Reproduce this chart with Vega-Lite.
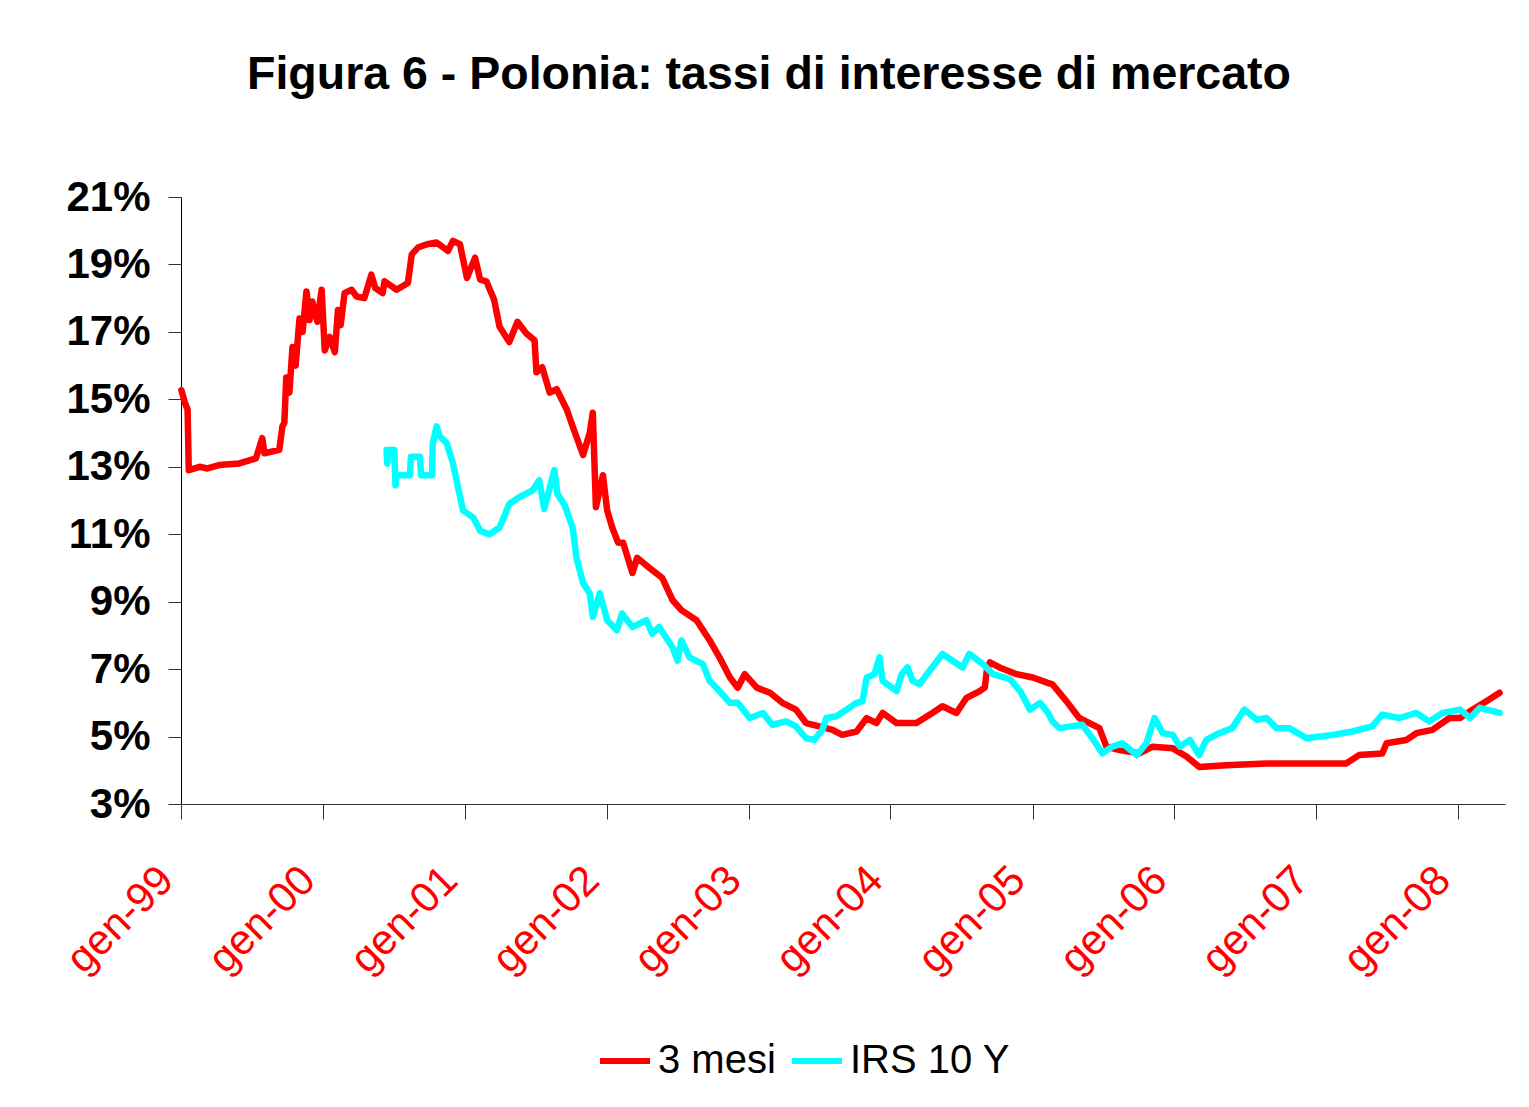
{
  "$schema": "https://vega.github.io/schema/vega-lite/v6.json",
  "width": 1324,
  "height": 607,
  "autosize": {"type": "none"},
  "padding": {"left": 181, "top": 197, "right": 24, "bottom": 303},
  "background": "white",
  "config": {
    "view": {"stroke": null},
    "font": "Liberation Sans"
  },
  "title": {
    "text": "Figura 6 - Polonia: tassi di interesse di mercato",
    "fontSize": 46.5,
    "fontWeight": "bold",
    "font": "Liberation Sans",
    "color": "black",
    "anchor": "middle",
    "dx": -74,
    "offset": 78
  },
  "data": {
    "values": [
      {"d": "1999-01-02", "s": "3 mesi", "v": 15.27},
      {"d": "1999-01-11", "s": "3 mesi", "v": 14.9},
      {"d": "1999-01-18", "s": "3 mesi", "v": 14.7},
      {"d": "1999-01-21", "s": "3 mesi", "v": 12.9},
      {"d": "1999-02-18", "s": "3 mesi", "v": 13.0},
      {"d": "1999-03-10", "s": "3 mesi", "v": 12.95},
      {"d": "1999-04-09", "s": "3 mesi", "v": 13.05},
      {"d": "1999-05-31", "s": "3 mesi", "v": 13.1},
      {"d": "1999-07-13", "s": "3 mesi", "v": 13.25},
      {"d": "1999-07-29", "s": "3 mesi", "v": 13.85},
      {"d": "1999-08-04", "s": "3 mesi", "v": 13.4},
      {"d": "1999-09-11", "s": "3 mesi", "v": 13.5},
      {"d": "1999-09-19", "s": "3 mesi", "v": 14.2},
      {"d": "1999-09-24", "s": "3 mesi", "v": 14.3},
      {"d": "1999-09-29", "s": "3 mesi", "v": 15.65},
      {"d": "1999-10-07", "s": "3 mesi", "v": 15.2},
      {"d": "1999-10-15", "s": "3 mesi", "v": 16.55},
      {"d": "1999-10-23", "s": "3 mesi", "v": 16.0},
      {"d": "1999-11-02", "s": "3 mesi", "v": 17.4},
      {"d": "1999-11-10", "s": "3 mesi", "v": 17.0},
      {"d": "1999-11-20", "s": "3 mesi", "v": 18.2},
      {"d": "1999-11-28", "s": "3 mesi", "v": 17.35},
      {"d": "1999-12-05", "s": "3 mesi", "v": 17.9},
      {"d": "1999-12-18", "s": "3 mesi", "v": 17.3},
      {"d": "1999-12-29", "s": "3 mesi", "v": 18.25},
      {"d": "2000-01-06", "s": "3 mesi", "v": 16.45},
      {"d": "2000-01-19", "s": "3 mesi", "v": 16.85},
      {"d": "2000-02-01", "s": "3 mesi", "v": 16.4},
      {"d": "2000-02-09", "s": "3 mesi", "v": 17.65},
      {"d": "2000-02-16", "s": "3 mesi", "v": 17.2},
      {"d": "2000-02-26", "s": "3 mesi", "v": 18.15},
      {"d": "2000-03-15", "s": "3 mesi", "v": 18.25},
      {"d": "2000-03-28", "s": "3 mesi", "v": 18.05},
      {"d": "2000-04-17", "s": "3 mesi", "v": 18.0},
      {"d": "2000-05-05", "s": "3 mesi", "v": 18.7},
      {"d": "2000-05-15", "s": "3 mesi", "v": 18.3},
      {"d": "2000-06-03", "s": "3 mesi", "v": 18.15},
      {"d": "2000-06-08", "s": "3 mesi", "v": 18.5},
      {"d": "2000-07-09", "s": "3 mesi", "v": 18.25},
      {"d": "2000-08-07", "s": "3 mesi", "v": 18.45},
      {"d": "2000-08-17", "s": "3 mesi", "v": 19.3},
      {"d": "2000-09-02", "s": "3 mesi", "v": 19.5},
      {"d": "2000-09-25", "s": "3 mesi", "v": 19.6},
      {"d": "2000-10-20", "s": "3 mesi", "v": 19.65},
      {"d": "2000-11-18", "s": "3 mesi", "v": 19.4},
      {"d": "2000-12-01", "s": "3 mesi", "v": 19.7},
      {"d": "2000-12-19", "s": "3 mesi", "v": 19.6},
      {"d": "2001-01-06", "s": "3 mesi", "v": 18.6},
      {"d": "2001-01-27", "s": "3 mesi", "v": 19.2},
      {"d": "2001-02-09", "s": "3 mesi", "v": 18.55},
      {"d": "2001-02-25", "s": "3 mesi", "v": 18.5},
      {"d": "2001-03-17", "s": "3 mesi", "v": 17.95},
      {"d": "2001-03-31", "s": "3 mesi", "v": 17.15},
      {"d": "2001-04-25", "s": "3 mesi", "v": 16.7},
      {"d": "2001-05-16", "s": "3 mesi", "v": 17.3},
      {"d": "2001-06-08", "s": "3 mesi", "v": 16.95},
      {"d": "2001-06-29", "s": "3 mesi", "v": 16.75},
      {"d": "2001-07-04", "s": "3 mesi", "v": 15.8},
      {"d": "2001-07-19", "s": "3 mesi", "v": 15.95},
      {"d": "2001-08-07", "s": "3 mesi", "v": 15.2},
      {"d": "2001-08-25", "s": "3 mesi", "v": 15.3},
      {"d": "2001-09-20", "s": "3 mesi", "v": 14.7},
      {"d": "2001-10-05", "s": "3 mesi", "v": 14.2},
      {"d": "2001-11-01", "s": "3 mesi", "v": 13.35},
      {"d": "2001-11-18", "s": "3 mesi", "v": 14.0},
      {"d": "2001-11-26", "s": "3 mesi", "v": 14.6},
      {"d": "2001-12-04", "s": "3 mesi", "v": 11.8},
      {"d": "2001-12-22", "s": "3 mesi", "v": 12.75},
      {"d": "2002-01-02", "s": "3 mesi", "v": 11.7},
      {"d": "2002-01-15", "s": "3 mesi", "v": 11.2},
      {"d": "2002-01-30", "s": "3 mesi", "v": 10.75},
      {"d": "2002-02-12", "s": "3 mesi", "v": 10.75},
      {"d": "2002-03-08", "s": "3 mesi", "v": 9.85},
      {"d": "2002-03-20", "s": "3 mesi", "v": 10.3},
      {"d": "2002-04-21", "s": "3 mesi", "v": 10.0},
      {"d": "2002-05-24", "s": "3 mesi", "v": 9.7},
      {"d": "2002-06-19", "s": "3 mesi", "v": 9.05},
      {"d": "2002-07-12", "s": "3 mesi", "v": 8.75},
      {"d": "2002-08-20", "s": "3 mesi", "v": 8.45},
      {"d": "2002-09-23", "s": "3 mesi", "v": 7.85},
      {"d": "2002-10-18", "s": "3 mesi", "v": 7.35},
      {"d": "2002-11-14", "s": "3 mesi", "v": 6.75},
      {"d": "2002-12-04", "s": "3 mesi", "v": 6.45},
      {"d": "2002-12-22", "s": "3 mesi", "v": 6.85},
      {"d": "2003-01-22", "s": "3 mesi", "v": 6.45},
      {"d": "2003-02-25", "s": "3 mesi", "v": 6.3},
      {"d": "2003-03-29", "s": "3 mesi", "v": 6.0},
      {"d": "2003-05-03", "s": "3 mesi", "v": 5.8},
      {"d": "2003-05-29", "s": "3 mesi", "v": 5.4},
      {"d": "2003-07-02", "s": "3 mesi", "v": 5.3},
      {"d": "2003-08-05", "s": "3 mesi", "v": 5.2},
      {"d": "2003-08-30", "s": "3 mesi", "v": 5.05},
      {"d": "2003-10-06", "s": "3 mesi", "v": 5.15},
      {"d": "2003-11-01", "s": "3 mesi", "v": 5.55},
      {"d": "2003-11-26", "s": "3 mesi", "v": 5.4},
      {"d": "2003-12-12", "s": "3 mesi", "v": 5.7},
      {"d": "2004-01-17", "s": "3 mesi", "v": 5.4},
      {"d": "2004-03-08", "s": "3 mesi", "v": 5.4},
      {"d": "2004-04-18", "s": "3 mesi", "v": 5.7},
      {"d": "2004-05-14", "s": "3 mesi", "v": 5.9},
      {"d": "2004-06-19", "s": "3 mesi", "v": 5.7},
      {"d": "2004-07-15", "s": "3 mesi", "v": 6.15},
      {"d": "2004-08-18", "s": "3 mesi", "v": 6.35},
      {"d": "2004-08-31", "s": "3 mesi", "v": 6.45},
      {"d": "2004-09-05", "s": "3 mesi", "v": 6.95},
      {"d": "2004-09-13", "s": "3 mesi", "v": 7.2},
      {"d": "2004-10-08", "s": "3 mesi", "v": 7.05},
      {"d": "2004-11-21", "s": "3 mesi", "v": 6.85},
      {"d": "2005-01-02", "s": "3 mesi", "v": 6.75},
      {"d": "2005-02-07", "s": "3 mesi", "v": 6.6},
      {"d": "2005-02-21", "s": "3 mesi", "v": 6.55},
      {"d": "2005-03-29", "s": "3 mesi", "v": 6.05},
      {"d": "2005-05-01", "s": "3 mesi", "v": 5.55},
      {"d": "2005-06-22", "s": "3 mesi", "v": 5.25},
      {"d": "2005-07-10", "s": "3 mesi", "v": 4.7},
      {"d": "2005-08-13", "s": "3 mesi", "v": 4.6},
      {"d": "2005-10-03", "s": "3 mesi", "v": 4.5},
      {"d": "2005-11-06", "s": "3 mesi", "v": 4.7},
      {"d": "2005-12-28", "s": "3 mesi", "v": 4.65},
      {"d": "2006-02-02", "s": "3 mesi", "v": 4.4},
      {"d": "2006-03-06", "s": "3 mesi", "v": 4.1},
      {"d": "2006-05-14", "s": "3 mesi", "v": 4.15},
      {"d": "2006-08-26", "s": "3 mesi", "v": 4.2},
      {"d": "2007-03-19", "s": "3 mesi", "v": 4.2},
      {"d": "2007-04-21", "s": "3 mesi", "v": 4.45},
      {"d": "2007-06-20", "s": "3 mesi", "v": 4.5},
      {"d": "2007-07-01", "s": "3 mesi", "v": 4.8},
      {"d": "2007-08-21", "s": "3 mesi", "v": 4.9},
      {"d": "2007-09-16", "s": "3 mesi", "v": 5.1},
      {"d": "2007-10-27", "s": "3 mesi", "v": 5.2},
      {"d": "2007-12-10", "s": "3 mesi", "v": 5.55},
      {"d": "2008-01-06", "s": "3 mesi", "v": 5.55},
      {"d": "2008-02-08", "s": "3 mesi", "v": 5.8},
      {"d": "2008-03-14", "s": "3 mesi", "v": 6.05},
      {"d": "2008-04-17", "s": "3 mesi", "v": 6.3},
      {"d": "2000-06-13", "s": "IRS 10 Y", "v": 13.5},
      {"d": "2000-06-15", "s": "IRS 10 Y", "v": 13.1},
      {"d": "2000-06-18", "s": "IRS 10 Y", "v": 13.5},
      {"d": "2000-07-03", "s": "IRS 10 Y", "v": 13.5},
      {"d": "2000-07-06", "s": "IRS 10 Y", "v": 12.45},
      {"d": "2000-07-09", "s": "IRS 10 Y", "v": 12.75},
      {"d": "2000-08-12", "s": "IRS 10 Y", "v": 12.75},
      {"d": "2000-08-15", "s": "IRS 10 Y", "v": 13.3},
      {"d": "2000-09-07", "s": "IRS 10 Y", "v": 13.3},
      {"d": "2000-09-10", "s": "IRS 10 Y", "v": 12.75},
      {"d": "2000-10-08", "s": "IRS 10 Y", "v": 12.75},
      {"d": "2000-10-10", "s": "IRS 10 Y", "v": 13.7},
      {"d": "2000-10-20", "s": "IRS 10 Y", "v": 14.2},
      {"d": "2000-10-28", "s": "IRS 10 Y", "v": 13.9},
      {"d": "2000-11-15", "s": "IRS 10 Y", "v": 13.7},
      {"d": "2000-12-01", "s": "IRS 10 Y", "v": 13.1},
      {"d": "2000-12-14", "s": "IRS 10 Y", "v": 12.4},
      {"d": "2000-12-27", "s": "IRS 10 Y", "v": 11.7},
      {"d": "2001-01-22", "s": "IRS 10 Y", "v": 11.5},
      {"d": "2001-02-09", "s": "IRS 10 Y", "v": 11.1},
      {"d": "2001-03-05", "s": "IRS 10 Y", "v": 11.0},
      {"d": "2001-03-31", "s": "IRS 10 Y", "v": 11.2},
      {"d": "2001-04-25", "s": "IRS 10 Y", "v": 11.9},
      {"d": "2001-05-21", "s": "IRS 10 Y", "v": 12.1},
      {"d": "2001-06-24", "s": "IRS 10 Y", "v": 12.3},
      {"d": "2001-07-11", "s": "IRS 10 Y", "v": 12.6},
      {"d": "2001-07-24", "s": "IRS 10 Y", "v": 11.75},
      {"d": "2001-08-19", "s": "IRS 10 Y", "v": 12.9},
      {"d": "2001-08-27", "s": "IRS 10 Y", "v": 12.2},
      {"d": "2001-09-15", "s": "IRS 10 Y", "v": 11.85},
      {"d": "2001-10-05", "s": "IRS 10 Y", "v": 11.2},
      {"d": "2001-10-15", "s": "IRS 10 Y", "v": 10.3},
      {"d": "2001-11-01", "s": "IRS 10 Y", "v": 9.55},
      {"d": "2001-11-18", "s": "IRS 10 Y", "v": 9.25},
      {"d": "2001-11-26", "s": "IRS 10 Y", "v": 8.55},
      {"d": "2001-12-14", "s": "IRS 10 Y", "v": 9.25},
      {"d": "2002-01-02", "s": "IRS 10 Y", "v": 8.45},
      {"d": "2002-01-27", "s": "IRS 10 Y", "v": 8.15},
      {"d": "2002-02-09", "s": "IRS 10 Y", "v": 8.65},
      {"d": "2002-03-08", "s": "IRS 10 Y", "v": 8.25},
      {"d": "2002-04-13", "s": "IRS 10 Y", "v": 8.45},
      {"d": "2002-04-28", "s": "IRS 10 Y", "v": 8.05},
      {"d": "2002-05-16", "s": "IRS 10 Y", "v": 8.25},
      {"d": "2002-06-19", "s": "IRS 10 Y", "v": 7.65},
      {"d": "2002-07-02", "s": "IRS 10 Y", "v": 7.25},
      {"d": "2002-07-12", "s": "IRS 10 Y", "v": 7.85},
      {"d": "2002-08-02", "s": "IRS 10 Y", "v": 7.35},
      {"d": "2002-09-05", "s": "IRS 10 Y", "v": 7.15},
      {"d": "2002-09-23", "s": "IRS 10 Y", "v": 6.65},
      {"d": "2002-10-18", "s": "IRS 10 Y", "v": 6.35},
      {"d": "2002-11-14", "s": "IRS 10 Y", "v": 6.0},
      {"d": "2002-12-04", "s": "IRS 10 Y", "v": 6.0},
      {"d": "2003-01-04", "s": "IRS 10 Y", "v": 5.55},
      {"d": "2003-02-07", "s": "IRS 10 Y", "v": 5.7},
      {"d": "2003-03-03", "s": "IRS 10 Y", "v": 5.35},
      {"d": "2003-04-08", "s": "IRS 10 Y", "v": 5.45},
      {"d": "2003-05-03", "s": "IRS 10 Y", "v": 5.3},
      {"d": "2003-05-29", "s": "IRS 10 Y", "v": 4.95},
      {"d": "2003-06-19", "s": "IRS 10 Y", "v": 4.9},
      {"d": "2003-07-10", "s": "IRS 10 Y", "v": 5.2},
      {"d": "2003-07-20", "s": "IRS 10 Y", "v": 5.55},
      {"d": "2003-08-15", "s": "IRS 10 Y", "v": 5.6},
      {"d": "2003-09-10", "s": "IRS 10 Y", "v": 5.8},
      {"d": "2003-10-06", "s": "IRS 10 Y", "v": 6.0},
      {"d": "2003-10-21", "s": "IRS 10 Y", "v": 6.05},
      {"d": "2003-11-01", "s": "IRS 10 Y", "v": 6.75},
      {"d": "2003-11-21", "s": "IRS 10 Y", "v": 6.85},
      {"d": "2003-12-04", "s": "IRS 10 Y", "v": 7.35},
      {"d": "2003-12-12", "s": "IRS 10 Y", "v": 6.65},
      {"d": "2004-01-17", "s": "IRS 10 Y", "v": 6.35},
      {"d": "2004-01-30", "s": "IRS 10 Y", "v": 6.85},
      {"d": "2004-02-14", "s": "IRS 10 Y", "v": 7.05},
      {"d": "2004-02-27", "s": "IRS 10 Y", "v": 6.65},
      {"d": "2004-03-16", "s": "IRS 10 Y", "v": 6.55},
      {"d": "2004-04-11", "s": "IRS 10 Y", "v": 6.95},
      {"d": "2004-05-14", "s": "IRS 10 Y", "v": 7.45},
      {"d": "2004-06-09", "s": "IRS 10 Y", "v": 7.25},
      {"d": "2004-07-05", "s": "IRS 10 Y", "v": 7.05},
      {"d": "2004-07-22", "s": "IRS 10 Y", "v": 7.45},
      {"d": "2004-08-26", "s": "IRS 10 Y", "v": 7.15},
      {"d": "2004-09-21", "s": "IRS 10 Y", "v": 6.85},
      {"d": "2004-11-04", "s": "IRS 10 Y", "v": 6.7},
      {"d": "2004-11-30", "s": "IRS 10 Y", "v": 6.35},
      {"d": "2004-12-25", "s": "IRS 10 Y", "v": 5.8},
      {"d": "2005-01-20", "s": "IRS 10 Y", "v": 6.0},
      {"d": "2005-02-10", "s": "IRS 10 Y", "v": 5.7},
      {"d": "2005-02-21", "s": "IRS 10 Y", "v": 5.45},
      {"d": "2005-03-11", "s": "IRS 10 Y", "v": 5.25},
      {"d": "2005-05-09", "s": "IRS 10 Y", "v": 5.35},
      {"d": "2005-06-04", "s": "IRS 10 Y", "v": 4.95},
      {"d": "2005-06-30", "s": "IRS 10 Y", "v": 4.5},
      {"d": "2005-07-25", "s": "IRS 10 Y", "v": 4.7},
      {"d": "2005-08-20", "s": "IRS 10 Y", "v": 4.8},
      {"d": "2005-09-26", "s": "IRS 10 Y", "v": 4.45},
      {"d": "2005-10-21", "s": "IRS 10 Y", "v": 4.8},
      {"d": "2005-11-11", "s": "IRS 10 Y", "v": 5.55},
      {"d": "2005-12-02", "s": "IRS 10 Y", "v": 5.1},
      {"d": "2005-12-28", "s": "IRS 10 Y", "v": 5.05},
      {"d": "2006-01-15", "s": "IRS 10 Y", "v": 4.7},
      {"d": "2006-02-10", "s": "IRS 10 Y", "v": 4.9},
      {"d": "2006-03-06", "s": "IRS 10 Y", "v": 4.45},
      {"d": "2006-03-24", "s": "IRS 10 Y", "v": 4.9},
      {"d": "2006-04-26", "s": "IRS 10 Y", "v": 5.1},
      {"d": "2006-05-30", "s": "IRS 10 Y", "v": 5.25},
      {"d": "2006-06-30", "s": "IRS 10 Y", "v": 5.8},
      {"d": "2006-08-01", "s": "IRS 10 Y", "v": 5.5},
      {"d": "2006-08-26", "s": "IRS 10 Y", "v": 5.55},
      {"d": "2006-09-21", "s": "IRS 10 Y", "v": 5.25},
      {"d": "2006-10-24", "s": "IRS 10 Y", "v": 5.25},
      {"d": "2006-12-07", "s": "IRS 10 Y", "v": 4.95},
      {"d": "2007-02-13", "s": "IRS 10 Y", "v": 5.05},
      {"d": "2007-04-04", "s": "IRS 10 Y", "v": 5.15},
      {"d": "2007-05-25", "s": "IRS 10 Y", "v": 5.3},
      {"d": "2007-06-20", "s": "IRS 10 Y", "v": 5.65},
      {"d": "2007-08-03", "s": "IRS 10 Y", "v": 5.55},
      {"d": "2007-09-16", "s": "IRS 10 Y", "v": 5.7},
      {"d": "2007-10-19", "s": "IRS 10 Y", "v": 5.45},
      {"d": "2007-11-22", "s": "IRS 10 Y", "v": 5.7},
      {"d": "2008-01-06", "s": "IRS 10 Y", "v": 5.8},
      {"d": "2008-02-01", "s": "IRS 10 Y", "v": 5.55},
      {"d": "2008-02-26", "s": "IRS 10 Y", "v": 5.85},
      {"d": "2008-04-17", "s": "IRS 10 Y", "v": 5.7}
    ]
  },
  "mark": {"type": "line", "strokeWidth": 6.5, "strokeJoin": "round", "strokeCap": "round"},
  "encoding": {
    "x": {
      "field": "d",
      "type": "temporal",
      "scale": {"type": "utc", "domain": ["1999-01-01", "2008-05-01"], "nice": false},
      "axis": {
        "title": null,
        "grid": false,
        "tickCount": {"interval": "year", "step": 1},
        "labelExpr": "'gen-' + utcFormat(datum.value, '%y')",
        "labelAngle": -45,
        "labelFontSize": 42,
        "labelFont": "Liberation Sans",
        "labelColor": "#FF0000",
        "labelPadding": 40,
        "labelOffset": -29,
        "labelOverlap": false,
        "labelFlush": false,
        "labelBound": false,
        "tickSize": 15,
        "tickColor": "#333333",
        "domainColor": "#333333",
        "domainWidth": 1,
        "tickWidth": 1
      }
    },
    "y": {
      "field": "v",
      "type": "quantitative",
      "scale": {"domain": [3, 21], "nice": false, "zero": false},
      "axis": {
        "title": null,
        "grid": false,
        "values": [3, 5, 7, 9, 11, 13, 15, 17, 19, 21],
        "labelExpr": "datum.value + '%'",
        "labelFontSize": 42,
        "labelFontWeight": "bold",
        "labelFont": "Liberation Sans",
        "labelColor": "black",
        "labelPadding": 18,
        "tickSize": 13,
        "tickColor": "#333333",
        "domainColor": "black",
        "domainWidth": 1,
        "tickWidth": 1
      }
    },
    "color": {
      "field": "s",
      "type": "nominal",
      "scale": {"domain": ["3 mesi", "IRS 10 Y"], "range": ["#FF0000", "#00FFFF"]},
      "legend": {
        "title": null,
        "orient": "none",
        "direction": "horizontal",
        "legendX": 416,
        "legendY": 836,
        "padding": 0,
        "symbolType": "stroke",
        "symbolSize": 2500,
        "symbolStrokeWidth": 6,
        "labelFontSize": 40,
        "labelFont": "Liberation Sans",
        "labelColor": "black",
        "labelOffset": 5,
        "columnPadding": 4,
        "labelLimit": 400
      }
    }
  }
}
